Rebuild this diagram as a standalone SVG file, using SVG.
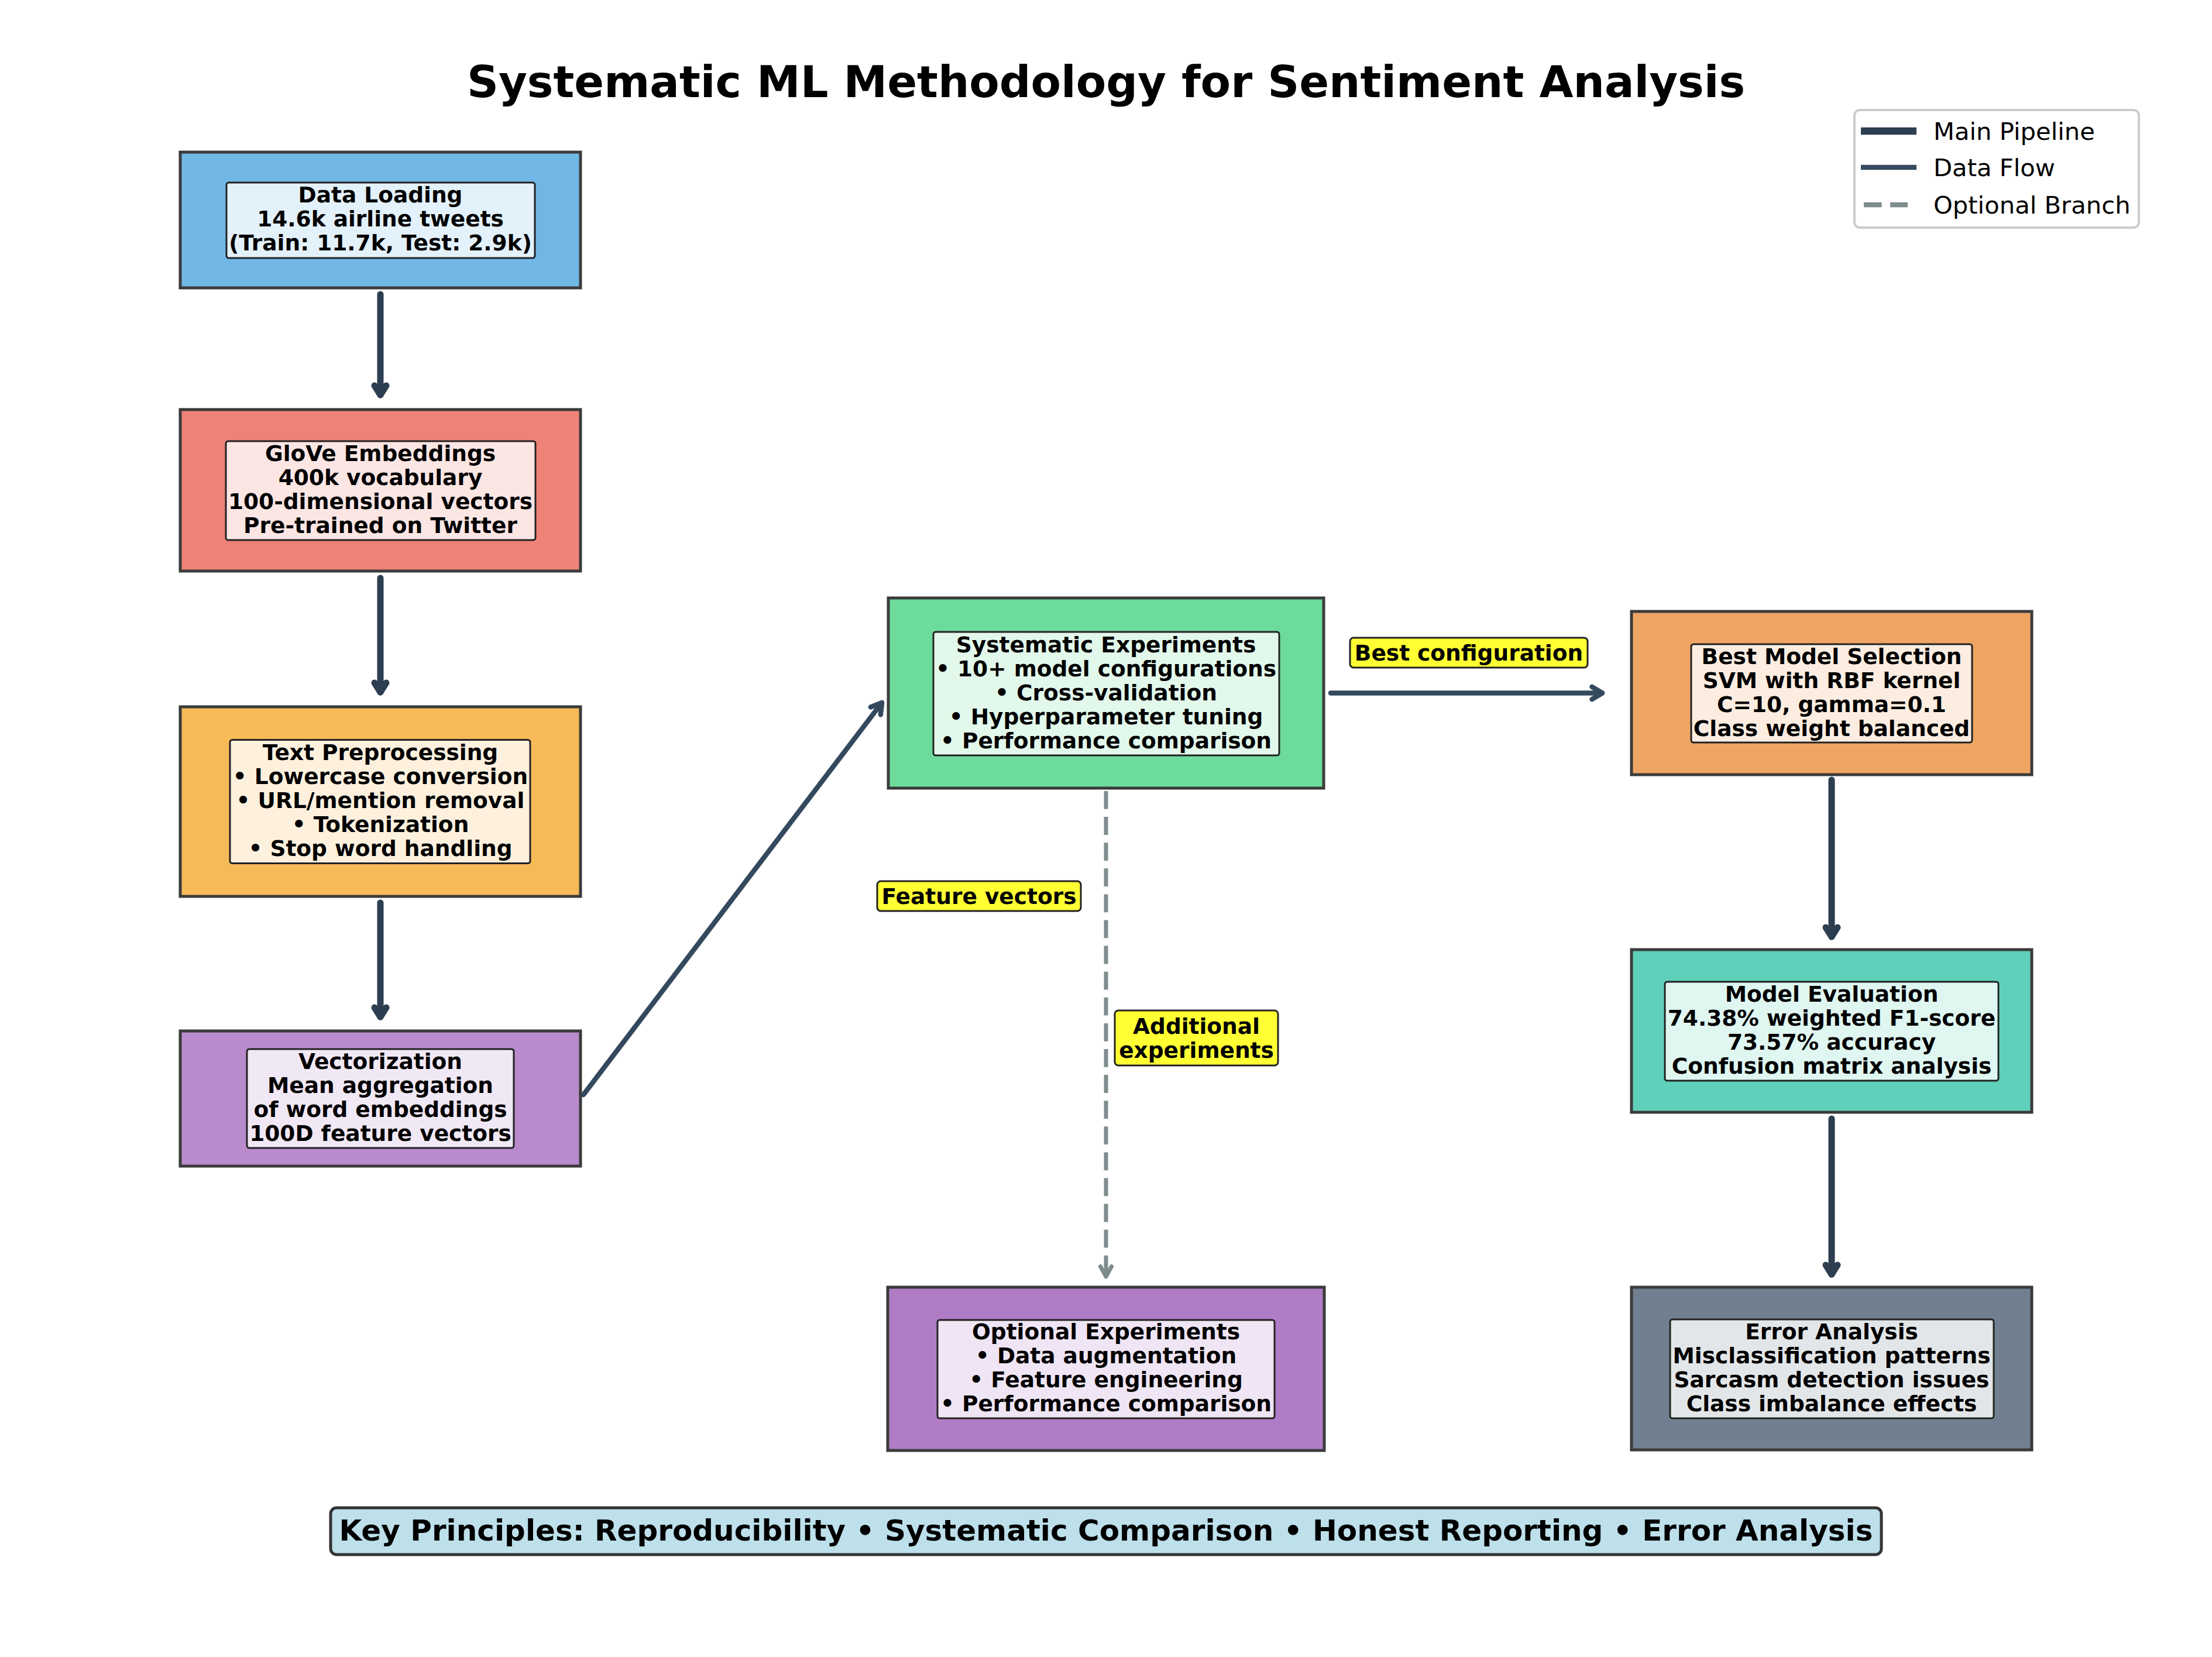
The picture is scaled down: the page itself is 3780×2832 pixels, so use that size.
<svg xmlns="http://www.w3.org/2000/svg" width="3780" height="2832" viewBox="0 0 3780 2832">
<defs>
<style>
.box{stroke:#3b3b3b;stroke-width:5}
.inner{stroke:#222;stroke-width:3}
.t{font-family:"DejaVu Sans","Liberation Sans",sans-serif;font-weight:bold;font-size:37.5px;text-anchor:middle;fill:#000}
.lbl{fill:#FFFF33;stroke:#222;stroke-width:3}
.main{fill:none;stroke:#2C3E50;stroke-width:11;stroke-linecap:round}
.flow{fill:none;stroke:#34495E;stroke-width:8.5;stroke-linecap:round}
.opt{fill:none;stroke:#7F8C8D;stroke-width:7;stroke-dasharray:30.8 13.3}
.leg{font-family:"DejaVu Sans","Liberation Sans",sans-serif;font-size:41.7px;fill:#000}
</style>
<marker id="hMain" markerUnits="userSpaceOnUse" viewBox="-40 -30 60 60" markerWidth="60" markerHeight="60" refX="0" refY="0" orient="auto" overflow="visible">
<path d="M-16,-10 L0,0 L-16,10" fill="none" stroke="#2C3E50" stroke-width="11" stroke-linecap="round" stroke-linejoin="round"/>
</marker>
<marker id="hFlow" markerUnits="userSpaceOnUse" viewBox="-40 -30 60 60" markerWidth="60" markerHeight="60" refX="0" refY="0" orient="auto" overflow="visible">
<path d="M-17.5,-10.7 L0,0 L-17.5,10.7" fill="none" stroke="#34495E" stroke-width="8.5" stroke-linecap="round" stroke-linejoin="round"/>
</marker>
<marker id="hOpt" markerUnits="userSpaceOnUse" viewBox="-40 -30 60 60" markerWidth="60" markerHeight="60" refX="0" refY="0" orient="auto" overflow="visible">
<path d="M-17.5,-9.5 L0,0 L-17.5,9.5" fill="none" stroke="#7F8C8D" stroke-width="7" stroke-linecap="round" stroke-linejoin="round"/>
</marker>
</defs>
<rect width="3780" height="2832" fill="#fff"/>

<text x="1890" y="166" font-family="'DejaVu Sans','Liberation Sans',sans-serif" font-weight="bold" font-size="75" text-anchor="middle" fill="#000">Systematic ML Methodology for Sentiment Analysis</text>

<g id="connectors">
<path class="main" d="M650 503 L650 675" marker-end="url(#hMain)"/>
<path class="main" d="M650 988 L650 1183" marker-end="url(#hMain)"/>
<path class="main" d="M650 1543 L650 1738" marker-end="url(#hMain)"/>
<path class="flow" d="M997 1871 L1507 1201" marker-end="url(#hFlow)"/>
<path class="flow" d="M2274 1184.5 L2738 1184.5" marker-end="url(#hFlow)"/>
<path class="main" d="M3130 1333 L3130 1601" marker-end="url(#hMain)"/>
<path class="main" d="M3130 1912 L3130 2178" marker-end="url(#hMain)"/>
<path class="opt" d="M1890 1352 L1890 2182" marker-end="url(#hOpt)"/>
</g>

<g id="node-data-loading">
<rect class="box" x="308" y="260" width="684" height="232" fill="#71B7E6"/>
<rect class="inner" x="387" y="312" width="527" height="129" rx="4" fill="#E3F1FA"/>
<text class="t" x="650" y="346"><tspan x="650">Data Loading</tspan><tspan x="650" dy="41">14.6k airline tweets</tspan><tspan x="650" dy="41">(Train: 11.7k, Test: 2.9k)</tspan></text>
</g>

<g id="node-glove">
<rect class="box" x="308" y="700" width="684" height="276" fill="#EE8277"/>
<rect class="inner" x="386" y="754" width="529" height="169" rx="4" fill="#FCE6E4"/>
<text class="t" x="650" y="787.5"><tspan x="650">GloVe Embeddings</tspan><tspan x="650" dy="41">400k vocabulary</tspan><tspan x="650" dy="41">100-dimensional vectors</tspan><tspan x="650" dy="41">Pre-trained on Twitter</tspan></text>
</g>

<g id="node-preprocessing">
<rect class="box" x="308" y="1208" width="684" height="324" fill="#F7BA59"/>
<rect class="inner" x="393" y="1264.5" width="513" height="211" rx="4" fill="#FDF1DE"/>
<text class="t" x="650" y="1299"><tspan x="650">Text Preprocessing</tspan><tspan x="650" dy="41">• Lowercase conversion</tspan><tspan x="650" dy="41">• URL/mention removal</tspan><tspan x="650" dy="41">• Tokenization</tspan><tspan x="650" dy="41">• Stop word handling</tspan></text>
</g>

<g id="node-vectorization">
<rect class="box" x="308" y="1762" width="684" height="231" fill="#B98BCC"/>
<rect class="inner" x="422" y="1793" width="456" height="169" rx="4" fill="#F1E8F5"/>
<text class="t" x="650" y="1827"><tspan x="650">Vectorization</tspan><tspan x="650" dy="41">Mean aggregation</tspan><tspan x="650" dy="41">of word embeddings</tspan><tspan x="650" dy="41">100D feature vectors</tspan></text>
</g>

<g id="node-experiments">
<rect class="box" x="1518" y="1022" width="744" height="325" fill="#6DDB9C"/>
<rect class="inner" x="1595" y="1080" width="591" height="211" rx="4" fill="#E2F8EB"/>
<text class="t" x="1890" y="1114.5"><tspan x="1890">Systematic Experiments</tspan><tspan x="1890" dy="41">• 10+ model configurations</tspan><tspan x="1890" dy="41">• Cross-validation</tspan><tspan x="1890" dy="41">• Hyperparameter tuning</tspan><tspan x="1890" dy="41">• Performance comparison</tspan></text>
</g>

<g id="node-best-model">
<rect class="box" x="2788" y="1045" width="684" height="279" fill="#EEA564"/>
<rect class="inner" x="2890" y="1101" width="480" height="168" rx="4" fill="#FCEDE0"/>
<text class="t" x="3130" y="1134.5"><tspan x="3130">Best Model Selection</tspan><tspan x="3130" dy="41">SVM with RBF kernel</tspan><tspan x="3130" dy="41">C=10, gamma=0.1</tspan><tspan x="3130" dy="41">Class weight balanced</tspan></text>
</g>

<g id="node-evaluation">
<rect class="box" x="2788" y="1623" width="684" height="278" fill="#5FD0BA"/>
<rect class="inner" x="2845" y="1678" width="570" height="169" rx="4" fill="#DFF6F1"/>
<text class="t" x="3130" y="1712"><tspan x="3130">Model Evaluation</tspan><tspan x="3130" dy="41">74.38% weighted F1-score</tspan><tspan x="3130" dy="41">73.57% accuracy</tspan><tspan x="3130" dy="41">Confusion matrix analysis</tspan></text>
</g>

<g id="node-error-analysis">
<rect class="box" x="2788" y="2200" width="684" height="278" fill="#718090"/>
<rect class="inner" x="2854" y="2255" width="553" height="169" rx="4" fill="#E3E6E8"/>
<text class="t" x="3130" y="2288.5"><tspan x="3130">Error Analysis</tspan><tspan x="3130" dy="41">Misclassification patterns</tspan><tspan x="3130" dy="41">Sarcasm detection issues</tspan><tspan x="3130" dy="41">Class imbalance effects</tspan></text>
</g>

<g id="node-optional">
<rect class="box" x="1517" y="2200" width="746" height="279" fill="#B07CC6"/>
<rect class="inner" x="1602" y="2256" width="576" height="168" rx="4" fill="#EFE5F4"/>
<text class="t" x="1890" y="2289"><tspan x="1890">Optional Experiments</tspan><tspan x="1890" dy="41">• Data augmentation</tspan><tspan x="1890" dy="41">• Feature engineering</tspan><tspan x="1890" dy="41">• Performance comparison</tspan></text>
</g>

<g id="labels">
<rect class="lbl" x="2307" y="1090" width="406" height="51" rx="6"/>
<text class="t" x="2510" y="1129">Best configuration</text>
<rect class="lbl" x="1499" y="1506" width="348" height="51" rx="6"/>
<text class="t" x="1673" y="1545">Feature vectors</text>
<rect class="lbl" x="1905" y="1727" width="279" height="94" rx="6"/>
<text class="t" x="2044.5" y="1767"><tspan x="2044.5">Additional</tspan><tspan x="2044.5" dy="41">experiments</tspan></text>
</g>

<g id="legend">
<rect x="3169" y="188" width="486" height="201" rx="9" fill="#fff" fill-opacity="0.8" stroke="#CCCCCC" stroke-width="4"/>
<line x1="3180" y1="224" x2="3275" y2="224" stroke="#2C3E50" stroke-width="12.5"/>
<text class="leg" x="3304" y="239">Main Pipeline</text>
<line x1="3180" y1="286" x2="3275" y2="286" stroke="#34495E" stroke-width="8.3"/>
<text class="leg" x="3304" y="301">Data Flow</text>
<line x1="3185" y1="350" x2="3260" y2="350" stroke="#7F8C8D" stroke-width="8.3" stroke-dasharray="30.5 14.5"/>
<text class="leg" x="3304" y="365">Optional Branch</text>
</g>

<g id="key-principles">
<rect x="565" y="2577" width="2650" height="80" rx="10" fill="#BDE0EB" stroke="#333" stroke-width="5"/>
<text x="1890" y="2633" font-family="'DejaVu Sans','Liberation Sans',sans-serif" font-weight="bold" font-size="50" text-anchor="middle" fill="#000">Key Principles: Reproducibility • Systematic Comparison • Honest Reporting • Error Analysis</text>
</g>
</svg>
